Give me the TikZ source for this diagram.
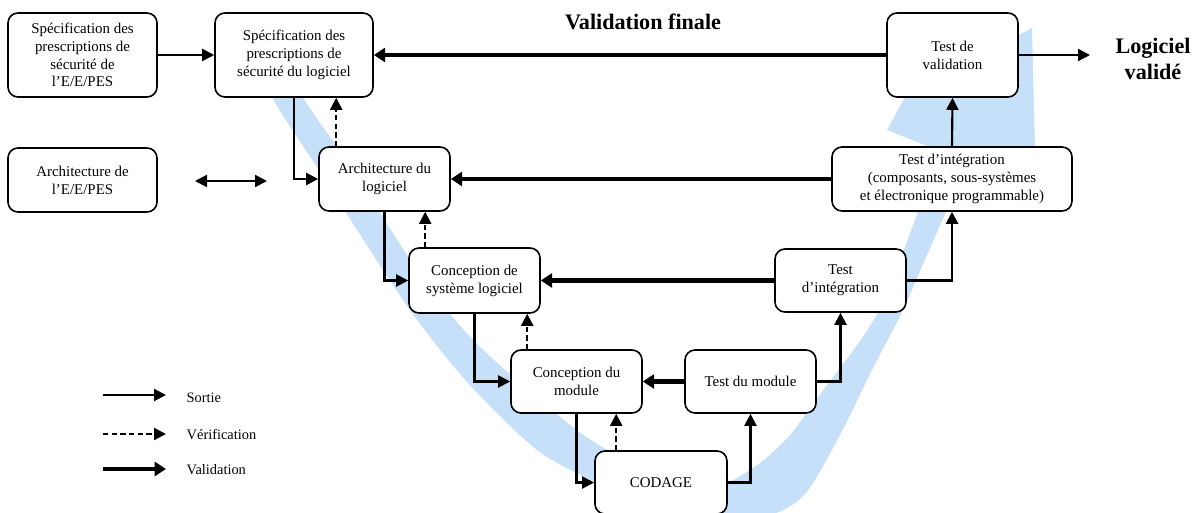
\documentclass[tikz,border=0pt]{standalone}
\usepackage{fontspec}
\setmainfont{Liberation Serif}
\usetikzlibrary{arrows.meta,calc}
\definecolor{vband}{RGB}{198,224,250}
\begin{document}
\begin{tikzpicture}[x=0.75pt,y=-0.75pt,
  stage/.style={draw, line width=1.2pt, rounded corners=7.5pt, fill=white,
    align=center, inner sep=0pt, font=\fontsize{11.2pt}{13.4pt}\selectfont},
  sortie/.style={line width=1.6pt, -{Triangle[length=9pt,width=9pt]}},
  verif/.style={sortie, dash pattern=on 4pt off 2.5pt},
  valid/.style={line width=3.4pt, -{Triangle[length=8.5pt,width=10.5pt]}},
  big/.style={font=\fontsize{16.6pt}{20pt}\selectfont\bfseries, align=center},
  legend/.style={font=\fontsize{10.8pt}{12pt}\selectfont, anchor=west}]

\useasboundingbox (0,0) rectangle (1194,513);

% the V-cycle band with its arrowhead
\fill[vband]
  plot[smooth, tension=0.5] coordinates {(250,40) (272,97) (320,172) (370,250)
    (415,317) (468,383) (537,450) (600,484) (660,508) (720,520) (768,516)
    (805,494) (840,435) (872,370) (902,312) (927,255) (952,200) (975,167)}
  -- (1036,190) -- (1032,28) -- (905,97) -- (887,130) -- (937,150)
  -- plot[smooth, tension=0.5] coordinates {(937,150) (922,200) (902,255)
    (884,302) (862,338) (840,368) (818,397) (790,435) (760,463) (727,483)
    (700,488) (648,470) (585,436) (505,370) (455,320) (405,252) (355,172)
    (303,97) (282,40)}
  -- cycle;

% stages
\node[stage, minimum width=111.75pt, minimum height=63pt] (A) at (82.5,55)
  {Spécification des\\prescriptions de\\sécurité de\\l’E/E/PES};
\node[stage, minimum width=118.5pt, minimum height=63pt] (B) at (294,55)
  {Spécification des\\prescriptions de\\sécurité du logiciel};
\node[stage, minimum width=111.75pt, minimum height=48pt] (C) at (82.5,180)
  {Architecture de\\l’E/E/PES};
\node[stage, minimum width=98.25pt, minimum height=48pt] (D) at (384.5,179)
  {Architecture du\\logiciel};
\node[stage, minimum width=98.25pt, minimum height=48.75pt] (E) at (474.5,280.5)
  {Conception de\\système logiciel};
\node[stage, minimum width=98.25pt, minimum height=47.25pt] (F) at (576.5,381.5)
  {Conception du\\module};
\node[stage, minimum width=99pt, minimum height=47.25pt] (G) at (661,482.5)
  {CODAGE};
\node[stage, minimum width=98.25pt, minimum height=47.25pt] (H) at (750.5,381.5)
  {Test du module};
\node[stage, minimum width=98.25pt, minimum height=47.25pt] (I) at (840.5,280.5)
  {Test\\d’intégration};
\node[stage, minimum width=180pt, minimum height=48pt] (J) at (952,179)
  {Test d’intégration\\(composants, sous-systèmes\\et électronique programmable)};
\node[stage, minimum width=98.25pt, minimum height=63pt] (K) at (952.5,55)
  {Test de\\validation};

\node[big] (vf) at (643,22) {Validation finale};
\node[big] (lv) at (1153,59) {Logiciel\\validé};

\coordinate (out) at (1090,55);
\coordinate (ca) at (195,181);
\coordinate (cb) at (267,181);

% outputs
\draw[sortie] (A) -- (B);
\draw[sortie] (K) -- (out);
\draw[sortie] (B.south) |- (D.west);
\draw[sortie] (D.south) |- (E.west);
\draw[sortie] (E.south) |- (F.west);
\draw[sortie] (F.south) |- (G.west);
\draw[sortie] (G.east) -| (H.south);
\draw[sortie] (H.east) -| (I.south);
\draw[sortie] (I.east) -| (J.south);
\draw[sortie] (J.north) -- (K.south);
\draw[line width=1.6pt, {Triangle[length=9pt,width=9pt]}-{Triangle[length=9pt,width=9pt]}] (ca) -- (cb);

% verifications
\draw[verif] ($(D.north west)+(18,0)$) coordinate (v1) -- (v1 |- B.south);
\draw[verif] ($(E.north west)+(17,0)$) coordinate (v2) -- (v2 |- D.south);
\draw[verif] ($(F.north west)+(17,0)$) coordinate (v3) -- (v3 |- E.south);
\draw[verif] ($(G.north west)+(22,0)$) coordinate (v4) -- (v4 |- F.south);

% validations
\draw[valid] (K) -- (B);
\draw[valid] (J) -- (D);
\draw[valid] (I) -- (E);
\draw[valid] (H) -- (F);

% legend
\coordinate (s1) at (103,395); \coordinate (s2) at (166,395);
\coordinate (r1) at (103,434); \coordinate (r2) at (166,434);
\coordinate (t1) at (103,469); \coordinate (t2) at (166,469);
\draw[sortie] (s1) -- (s2);
\draw[verif] (r1) -- (r2);
\draw[valid] (t1) -- (t2);
\node[legend] (ls) at (182,398) {Sortie};
\node[legend] (lr) at (182,435) {Vérification};
\node[legend] (lt) at (182,470) {Validation};
\end{tikzpicture}
\end{document}
